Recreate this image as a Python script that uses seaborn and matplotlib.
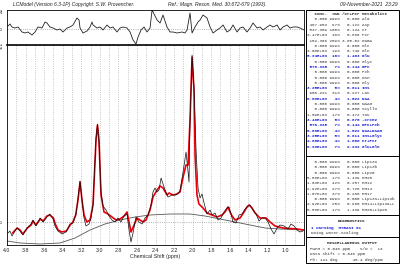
import numpy as np
import pandas as pd
import seaborn as sns
import matplotlib.pyplot as plt
from matplotlib.patches import Rectangle

# ---- spectrum (ppm, amplitude) ----
data_ppm = [3.989, 3.968, 3.946, 3.914, 3.892, 3.860, 3.828, 3.784, 3.741, 3.720,
            3.687, 3.644, 3.612, 3.569, 3.537, 3.504, 3.483, 3.450, 3.407, 3.364,
            3.321, 3.289, 3.256, 3.235, 3.213, 3.192, 3.170, 3.149, 3.116, 3.095,
            3.073, 3.041, 3.025, 3.009, 2.987, 2.966, 2.933, 2.901, 2.869, 2.836,
            2.804, 2.772, 2.739, 2.707, 2.685, 2.664, 2.642, 2.610, 2.578, 2.545,
            2.513, 2.481, 2.448, 2.427, 2.405, 2.383, 2.362, 2.340, 2.319, 2.297,
            2.265, 2.222, 2.179, 2.136, 2.103, 2.071, 2.049, 2.039, 2.028, 2.006,
            1.985, 1.963, 1.942, 1.920, 1.899, 1.877, 1.845, 1.812, 1.791, 1.759,
            1.726, 1.694, 1.662, 1.629, 1.608, 1.586, 1.565, 1.532, 1.500, 1.468,
            1.435, 1.403, 1.381, 1.349, 1.317, 1.284, 1.252, 1.220, 1.187, 1.155,
            1.123, 1.090, 1.058, 1.015, 0.972, 0.940, 0.907, 0.875, 0.843, 0.810]
data_amp = [-11, -9, -14, -9, -6, -9, -13, -6, -2, 2,
            -4, 4, 0, 5, 8, 3, -4, -9, -12, -10,
            -2, -1, 8, 24, 41, 22, 4, -4, -2, 4,
            18, 84, 98, 80, 30, 16, 12, 6, 2, 0,
            4, 0, 6, 8, -8, -20, -11, 5, 0, -2,
            4, 7, 17, 30, 34, 30, 32, 44, 38, 32,
            25, 27, 27, 31, 50, 70, 50, 40, 100, 167,
            134, 72, 34, 24, 28, 19, 8, 12, 7, 9,
            2, 4, 10, 14, 15, 8, 0, -1, 7, 8,
            13, 16, 17, 12, 8, 1, 4, 4, 0, -7,
            -12, -6, -3, -4, -7, -2, -4, -8, -10, -9]

fit_ppm = [3.94, 3.89, 3.86, 3.83, 3.78, 3.74, 3.72, 3.69, 3.64, 3.61,
           3.57, 3.54, 3.50, 3.48, 3.45, 3.41, 3.36, 3.32, 3.29, 3.26,
           3.235, 3.213, 3.192, 3.17, 3.14, 3.105, 3.073, 3.041, 3.025, 3.009,
           2.987, 2.955, 2.912, 2.869, 2.825, 2.782, 2.739, 2.707, 2.685, 2.664,
           2.631, 2.599, 2.567, 2.534, 2.502, 2.459, 2.427, 2.383, 2.351, 2.319,
           2.276, 2.254, 2.211, 2.168, 2.136, 2.103, 2.071, 2.049, 2.028, 2.006,
           1.985, 1.974, 1.953, 1.932, 1.888, 1.845, 1.791, 1.737, 1.683, 1.651,
           1.619, 1.597, 1.575, 1.543, 1.489, 1.446, 1.414, 1.392, 1.360, 1.327,
           1.274, 1.241, 1.209, 1.166, 1.112, 1.026, 0.875, 0.80]
fit_amp = [-11, -6, -8, -12, -6, -3, 1, -3, 3, 1,
           6, 7, 4, -2, -8, -10, -9, -3, 0, 7,
           22, 40, 22, 7, 0, 2, 17, 82, 97, 82,
           27, 10, 8, 5, 2, 3, 6, 10, 0, -10,
           -3, 4, 2, 0, 2, 12, 25, 32, 36, 34,
           27, 29, 27, 28, 30, 45, 57, 57, 102, 165,
           132, 67, 27, 18, 14, 9, 7, 5, 7, 10,
           15, 10, 6, 2, 4, 10, 15, 17, 14, 9,
           4, 4, 4, 0, -4, -6, -7, -8]

base_ppm = [4.0, 3.86, 3.644, 3.429, 3.267, 3.105, 2.944, 2.782, 2.621, 2.459,
            2.243, 2.028, 1.866, 1.705, 1.543, 1.381, 1.220, 1.058, 0.80]
base_amp = [-19, -21, -22, -21, -16, -8, -2, 2, 5, 7,
            8, 8, 6, 3, 0, -3, -6, -7, -8]

res_ppm = [3.989, 3.968, 3.946, 3.914, 3.881, 3.838, 3.806, 3.774, 3.731, 3.698,
           3.666, 3.623, 3.590, 3.569, 3.537, 3.504, 3.461, 3.429, 3.397, 3.353,
           3.321, 3.289, 3.246, 3.224, 3.213, 3.181, 3.138, 3.105, 3.084, 3.073,
           3.030, 2.998, 2.966, 2.922, 2.890, 2.858, 2.815, 2.782, 2.750, 2.707,
           2.674, 2.642, 2.610, 2.588, 2.556, 2.524, 2.491, 2.459, 2.437, 2.416,
           2.383, 2.351, 2.319, 2.276, 2.243, 2.211, 2.168, 2.114, 2.082, 2.060,
           2.028, 2.006, 1.974, 1.942, 1.920, 1.888, 1.845, 1.812, 1.780, 1.737,
           1.705, 1.672, 1.629, 1.597, 1.565, 1.521, 1.489, 1.457, 1.414, 1.381,
           1.349, 1.306, 1.274, 1.241, 1.198, 1.166, 1.134, 1.090, 1.058, 1.026,
           0.983, 0.950, 0.918, 0.875, 0.843, 0.800]
res_amp = [3, 5, 2, 1, 2, -3, -4, -3, -6, -3,
           2, 1, 7, 6, 2, 1, -1, 0, -3, 1,
           2, 4, 11, 9, 1, -4, -2, 2, 7, 4,
           1, 2, -1, 4, 1, 2, -3, 1, 2, 1,
           -3, -11, -15, -8, -1, 2, -3, 1, 19, 15,
           9, 6, 14, 2, -3, -3, -4, -3, -4, -1,
           16, -4, 2, 7, 9, 14, 11, 2, -4, -1,
           1, 4, -3, -1, 4, -3, 1, 2, -3, 1,
           6, 1, 2, -1, 2, 4, 2, 4, -1, 2,
           4, 1, 2, 2, 1, -1]

x_ticks = [4.0, 3.8, 3.6, 3.4, 3.2, 3.0, 2.8, 2.6, 2.4, 2.2, 2.0, 1.8, 1.6, 1.4, 1.2, 1.0]

# ---- concentration table ----
met_conc = ["0.000", "487.953", "537.389", "3.47E+03", "152.366", "0.000", "3.00E+03",
            "5.94E+03", "0.000", "578.395", "0.000", "0.000", "0.000", "3.25E+03",
            "908.221", "6.09E+03", "0.000", "0.000", "1.89E+03", "3.48E+03",
            "578.395", "6.09E+03", "3.25E+03", "4.00E+03", "8.93E+03"]
met_sd = [999, 97, 100, 16, 209, 999, 19, 10, 999, 7, 999, 999, 999, 5,
          31, 4, 999, 999, 17, 5, 7, 4, 5, 4, 7]
met_ratio = ["0.000", "0.122", "0.134", "0.866", "3.8E-02", "0.000", "0.749",
             "1.483", "0.000", "0.144", "0.000", "0.000", "0.000", "0.811",
             "0.227", "1.522", "0.000", "0.000", "0.472", "0.870",
             "0.144", "1.522", "0.811", "1.000", "2.232"]
met_name = ["Ala", "Asp", "Cr", "PCr", "GABA", "Glc", "Gln", "Glu", "Glyc", "GPC",
            "PCh", "GSH", "Gly", "Ins", "Lac", "NAA", "NAAG", "Scyllo", "Tau",
            "-CrCH2", "GPC+PCh", "NAA+NAAG", "Ins+Glyc", "Cr+PCr", "Glu+Gln"]

mm_conc = ["0.000", "0.000", "0.000", "5.56E+03", "1.03E+03", "2.92E+03",
           "1.07E+03", "0.000", "3.92E+03", "5.56E+03"]
mm_sd = [999, 999, 999, 17, 42, 27, 37, 999, 25, 17]
mm_ratio = ["0.000", "0.000", "0.000", "1.439", "0.257", "0.728", "0.268",
            "0.000", "0.980", "1.439"]
mm_name = ["Lip13a", "Lip13b", "Lip20", "MM20", "MM12", "MM14", "MM17",
           "Lip13a+Lip13b", "MM14+Lip13a+L", "MM20+Lip20"]

diag_lines = ["1 warning  MYBASI 01", "Doing Water-Scaling"]
misc_lines = ["FWHM = 0.046 ppm    S/N =  13", "Data shift = 0.046 ppm",
              "Ph: 121 deg      48.4 deg/ppm"]

spec = pd.DataFrame({"ppm": data_ppm, "amp": data_amp})
fit = pd.DataFrame({"ppm": fit_ppm, "amp": fit_amp})
base = pd.DataFrame({"ppm": base_ppm, "amp": base_amp})
res = pd.DataFrame({"ppm": res_ppm, "amp": res_amp})

sns.set_style("white")
plt.rcParams["font.family"] = ["Liberation Sans", "DejaVu Sans"]

W, H = 400, 265
fig = plt.figure(figsize=(4, 2.65), dpi=100)
ax_res = fig.add_axes([7 / W, 1 - 45 / H, 297 / W, 35 / H])
ax = fig.add_axes([7 / W, 1 - 245 / H, 297 / W, 200 / H])

# residual panel
ax_res.axhline(0, color="#999999", ls=":", lw=0.6)
sns.lineplot(data=res, x="ppm", y="amp", ax=ax_res, color="#222222", lw=0.6,
             estimator=None)
ax_res.set_xlim(4.0, 0.8)
ax_res.set_ylim(-16, 19)
ax_res.set_xticks([])
ax_res.set_yticks([-16, 0, 19])
ax_res.set_yticklabels(["-21", "0", "22"], rotation=90, va="center", fontsize=3.5)
ax_res.tick_params(axis="y", length=1.5, pad=0.5, width=0.5)
ax_res.set_xlabel("")
ax_res.set_ylabel("")
for s in ax_res.spines.values():
    s.set_linewidth(0.6)
    s.set_color("black")
ax_res.spines["bottom"].set_linewidth(1.2)

# main spectrum panel
for g in np.arange(3.9, 0.85, -0.1):
    ax.axvline(g, color="#b4b4b4", ls=":", lw=0.6, zorder=0)
ax.axhline(0, color="#999999", ls=":", lw=0.6, zorder=0)
sns.lineplot(data=base, x="ppm", y="amp", ax=ax, color="#555555", lw=0.6,
             estimator=None)
sns.lineplot(data=fit, x="ppm", y="amp", ax=ax, color="#e8000b", lw=1.2,
             estimator=None)
sns.lineplot(data=spec, x="ppm", y="amp", ax=ax, color="#111111", lw=0.5,
             estimator=None)
ax.set_xlim(4.0, 0.8)
ax.set_ylim(-23, 177)
ax.set_xticks(x_ticks)
ax.set_xticklabels([f"{t:.1f}" for t in x_ticks], fontsize=3.8)
ax.set_yticks([0])
ax.set_yticklabels(["0"], rotation=90, va="center", fontsize=3.5)
ax.tick_params(axis="both", length=1.5, pad=1, width=0.5)
ax.set_xlabel("Chemical Shift (ppm)", fontsize=3.8, labelpad=0.5)
ax.set_ylabel("")
for s in ax.spines.values():
    s.set_linewidth(0.6)
    s.set_color("black")

# overlay for title and table (pixel units)
tab = fig.add_axes([0, 0, 1, 1])
tab.set_xlim(0, W)
tab.set_ylim(H, 0)
tab.axis("off")

tab.text(13, 4.5, "LCModel (Version 6.3-1P) Copyright: S.W. Provencher.",
         fontsize=3.6, style="italic", va="center", color="#222222")
tab.text(168, 4.5, "Ref.: Magn. Reson. Med. 30:672-679 (1993).",
         fontsize=3.6, style="italic", va="center", color="#222222")
tab.text(398, 4.5, "09-November-2021  23:29", fontsize=3.6, style="italic",
         va="center", ha="right", color="#222222")

tab.add_patch(Rectangle((306, 10), 93, 253, fill=False, lw=0.7, ec="black"))
for yl in [156, 215, 237]:
    tab.plot([306, 399], [yl, yl], color="black", lw=0.7)

mono = "Liberation Mono"
fs = 3.1
step = 5.3


def row_text(c, sd, r, n):
    return f"{c:>8} {str(sd) + '%':>4}{r:>8} {n}"


tab.text(307, 14, "   Conc.  %SD /Cr+PCr Metabolite",
         fontsize=fs, family=mono, fontweight="bold", va="center")
for i, (c, sd, r, n) in enumerate(zip(met_conc, met_sd, met_ratio, met_name)):
    blue = sd <= 10
    tab.text(307, 14 + step * (i + 1), row_text(c, sd, r, n), fontsize=fs,
             family=mono, va="center", color="#1a1ad8" if blue else "#333333",
             fontweight="bold" if blue else "normal")
for i, (c, sd, r, n) in enumerate(zip(mm_conc, mm_sd, mm_ratio, mm_name)):
    tab.text(307, 162 + step * i, row_text(c, sd, r, n), fontsize=fs,
             family=mono, va="center", color="#333333")

tab.text(352, 221.5, "DIAGNOSTICS", fontsize=fs, family=mono, fontweight="bold",
         ha="center", va="center")
tab.text(311, 227.5, diag_lines[0], fontsize=fs, family=mono, fontweight="bold",
         va="center", color="#1a1ad8")
tab.text(311, 233, diag_lines[1], fontsize=fs, family=mono, va="center",
         color="#333333")
tab.text(352, 243, "MISCELLANEOUS OUTPUT", fontsize=fs, family=mono,
         fontweight="bold", ha="center", va="center")
for i, line in enumerate(misc_lines):
    tab.text(310, 249 + step * i, line, fontsize=fs, family=mono, va="center",
             color="#333333")

fig.savefig("out.png", dpi=100)
